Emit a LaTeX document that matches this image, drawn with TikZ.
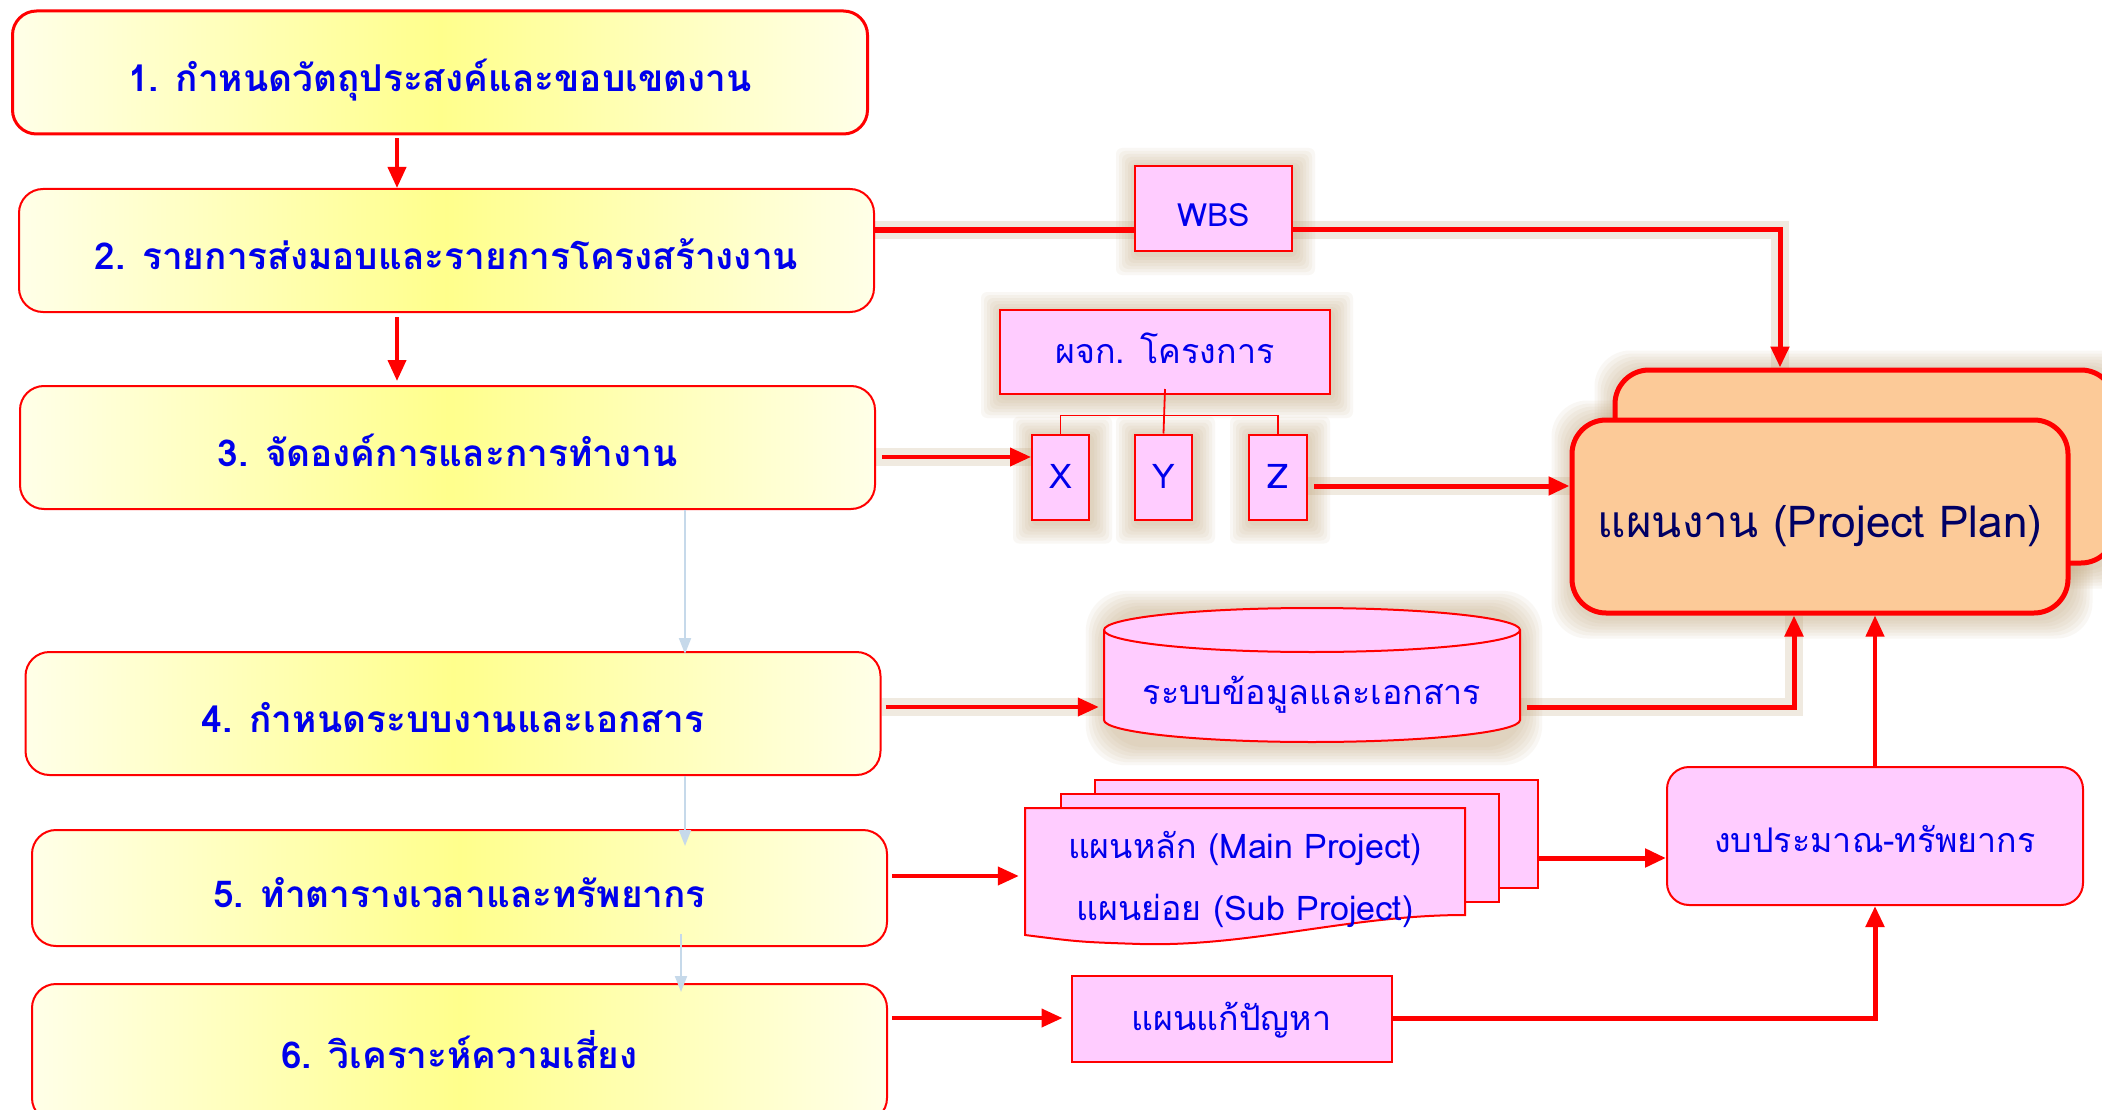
\documentclass[tikz,border=0pt]{standalone}
\usepackage{fontspec}
\setmainfont{Loma}[Script=Thai]
\usetikzlibrary{arrows.meta,calc,backgrounds}
\definecolor{boxred}{RGB}{255,0,0}
\definecolor{tblue}{RGB}{0,0,235}
\definecolor{navy}{RGB}{0,0,100}
\definecolor{pinkf}{RGB}{255,204,255}
\definecolor{peach}{RGB}{252,202,152}
\definecolor{glowc}{RGB}{190,160,115}
\definecolor{ylo}{RGB}{255,255,140}
\definecolor{ylw}{RGB}{255,255,232}
\definecolor{lblue}{RGB}{198,217,234}
\newcommand{\glowat}[2]{%
  \foreach \g in {2,5,...,20}{%
    \fill[glowc, opacity=0.08, rounded corners=#2]
      ($(#1.south west)+({-\g*1pt+2pt},{-\g*1pt-3pt})$) rectangle
      ($(#1.north east)+({\g*1pt+2pt},{\g*1pt-3pt})$);
  }}
\tikzset{
  ybox/.style={draw=boxred, line width=2pt, rounded corners=24pt,
    left color=ylw, right color=ylw, middle color=ylo, text=tblue,
    font=\bfseries\fontsize{37}{42}\selectfont, minimum width=855pt,
    minimum height=123pt, inner sep=0pt, text height=40pt, text depth=2pt},
  pbox/.style={draw=boxred, line width=2pt, fill=pinkf, text=tblue,
    font=\fontsize{34}{40}\selectfont, inner sep=0pt,
    text height=28pt, text depth=6pt},
  ptext/.style={text=tblue, font=\fontsize{34}{40}\selectfont, inner sep=0pt,
    text height=28pt, text depth=6pt},
  ra/.style={draw=boxred, line width=4pt, -{Triangle[length=21pt,width=18pt]}},
  rl/.style={draw=boxred, line width=6pt},
  ba/.style={draw=lblue, line width=2pt, -{Triangle[length=16pt,width=12pt]}},
  glowl/.style={draw=glowc, line width=18pt, opacity=0.22},
  treel/.style={draw=boxred, line width=1.8pt},
}
\begin{document}
\begin{tikzpicture}[x=1pt,y=-1pt]
\useasboundingbox (0,0) rectangle (2102,1110);

% left column
\node[ybox, line width=3pt] (box1) at (440,72.5) {1. กำหนดวัตถุประสงค์และขอบเขตงาน};
\node[ybox] (box2) at (446.5,250.5) {2. รายการส่งมอบและรายการโครงสร้างงาน};
\node[ybox] (box3) at (447.5,447.5) {3. จัดองค์การและการทำงาน};
\node[ybox] (box4) at (453,713.5) {4. กำหนดระบบงานและเอกสาร};
\node[ybox, minimum height=116pt] (box5) at (459.5,888) {5. ทำตารางเวลาและทรัพยากร};
\node[ybox, minimum height=138pt, text height=32pt] (box6) at (459.5,1053) {6. วิเคราะห์ความเสี่ยง};

% right side nodes
\node[pbox, minimum width=157pt, minimum height=85pt, font=\fontsize{32}{38}\selectfont,
  text height=37pt, text depth=2pt] (wbs) at (1213.5,208.5) {WBS};
\node[pbox, minimum width=330pt, minimum height=84pt] (pm) at (1165,352) {ผจก. โครงการ};
\node[pbox, minimum width=57pt, minimum height=85pt] (xn) at (1060.5,477) {X};
\node[pbox, minimum width=57pt, minimum height=85pt] (yn) at (1163.5,477) {Y};
\node[pbox, minimum width=58pt, minimum height=85pt] (zn) at (1278,477) {Z};

\node[draw=boxred, line width=5pt, fill=peach, rounded corners=34pt,
  minimum width=500pt, minimum height=193pt] (pb) at (1865,466.5) {};
\node[draw=boxred, line width=5pt, fill=peach, rounded corners=34pt,
  minimum width=496pt, minimum height=193pt, text=navy, inner sep=0pt,
  text height=43pt, text depth=2pt,
  font=\fontsize{44}{50}\selectfont] (pf) at (1820,516.5) {แผนงาน (Project Plan)};

% cylinder
\node[minimum width=416pt, minimum height=134pt, inner sep=0pt] (cyl) at (1312,675) {};
\filldraw[draw=boxred, line width=2pt, fill=pinkf]
  (1104,630) -- (1104,720)
  arc[start angle=180, end angle=360, x radius=208pt, y radius=22pt]
  -- (1520,630)
  arc[start angle=0, end angle=180, x radius=208pt, y radius=22pt] -- cycle;
\draw[draw=boxred, line width=2pt] (1104,630)
  arc[start angle=180, end angle=360, x radius=208pt, y radius=22pt];
\node[ptext] (cyltext) at (1312,693) {ระบบข้อมูลและเอกสาร};

% document stack
\node[pbox, minimum width=443pt, minimum height=108pt] (docback) at (1316.5,834) {};
\node[pbox, minimum width=438pt, minimum height=108pt] (docmid) at (1280,848) {};
\node[minimum width=440pt, minimum height=132pt, inner sep=0pt] (docf) at (1245,874) {};
\filldraw[draw=boxred, line width=2pt, fill=pinkf]
  (1025,808) -- (1465,808) -- (1465,915)
  .. controls (1350,915) and (1250,947) .. (1140,944)
  .. controls (1080,942) .. (1025,935) -- cycle;
\node[ptext] (mainp) at (1245,847) {แผนหลัก (Main Project)};
\node[ptext] (subp) at (1245,909) {แผนย่อย (Sub Project)};

\node[pbox, rounded corners=22pt, minimum width=416pt, minimum height=138pt,
  text height=34pt, text depth=2pt] (bud) at (1875,836) {งบประมาณ-ทรัพยากร};
\node[pbox, minimum width=320pt, minimum height=86pt] (fix) at (1231.5,1019) {แผนแก้ปัญหา};

% helper coordinates
\coordinate (wy) at (0,230);
\coordinate (wx) at (1780,0);
\coordinate (a3y) at (0,457);
\coordinate (zy) at (0,486);
\coordinate (c4y) at (0,707);
\coordinate (cx) at (1794,0);
\coordinate (d5) at (0,876);
\coordinate (dy) at (0,858);
\coordinate (f6) at (0,1018);
\coordinate (a12) at (397,0);
\coordinate (bx) at (685,0);
\coordinate (bx2) at (681,0);

% background and glows
\begin{scope}[on background layer]
  \fill[white] (0,0) rectangle (2102,1110);
  \glowat{wbs}{6pt}
  \glowat{pm}{6pt}
  \glowat{xn}{6pt}
  \glowat{yn}{6pt}
  \glowat{zn}{6pt}
  \glowat{pb}{36pt}
  \glowat{pf}{36pt}
  \glowat{cyl}{40pt}
  \draw[glowl] (box2.east |- wy) -- (wbs.west |- wy);
  \draw[glowl] (wbs.east |- wy) -| (pb.north -| wx);
  \draw[glowl] (zn.east |- zy) -- (pf.west |- zy);
  \draw[glowl] (box3.east |- a3y) -- (xn.west |- a3y);
  \draw[glowl] (box4.east |- c4y) -- (cyl.west |- c4y);
  \draw[glowl] (cyl.east |- c4y) -| (pf.south -| cx);
\end{scope}

% tree
\draw[treel] ([yshift=6pt]pm.south) -- (yn.north);
\draw[treel] (xn.north) -- ++(0,-18) -| (zn.north);

% red connectors
\draw[ra] ([yshift=-3pt]box1.south -| a12) -- (box2.north -| a12);
\draw[ra] ([yshift=-4pt]box2.south -| a12) -- ([yshift=4pt]box3.north -| a12);
\draw[rl] (box2.east |- wy) -- (wbs.west |- wy);
\draw[ra, line width=5pt] (wbs.east |- wy) -| (pb.north -| wx);
\draw[ra] ([xshift=6pt]box3.east |- a3y) -- (xn.west |- a3y);
\draw[ra, line width=5pt] ([xshift=6pt]zn.east |- zy) -- (pf.west |- zy);
\draw[ra] ([xshift=4pt]box4.east |- c4y) -- ([xshift=-5pt]cyl.west |- c4y);
\draw[ra, line width=5pt] ([xshift=7pt]cyl.east |- c4y) -| (pf.south -| cx);
\draw[ra] (bud.north) -- (pf.south -| bud.north);
\draw[ra] ([xshift=4pt]box5.east |- d5) -- ([xshift=-6pt]docf.west |- d5);
\draw[ra, line width=5pt] (docback.east |- dy) -- (bud.west |- dy);
\draw[ra] ([xshift=4pt]box6.east |- f6) -- ([xshift=-8pt]fix.west |- f6);
\draw[ra, line width=5pt] (fix.east |- f6) -| (bud.south);

% light blue connectors
\draw[ba] (box3.south -| bx) -- ([yshift=-3pt]box4.north -| bx);
\draw[ba] (box4.south -| bx) -- ([yshift=-17pt]box5.north -| bx);
\draw[ba] ([yshift=13pt]box5.south -| bx2) -- ([yshift=-9pt]box6.north -| bx2);
\end{tikzpicture}
\end{document}
